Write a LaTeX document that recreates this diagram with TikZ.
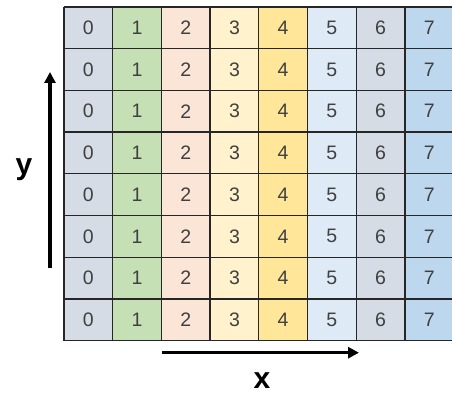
\documentclass[tikz,border=0pt]{standalone}
\usepackage{fontspec}
\setmainfont{Liberation Sans}
\usetikzlibrary{arrows.meta}
\definecolor{c0}{HTML}{D6DCE5}
\definecolor{c1}{HTML}{C5E0B4}
\definecolor{c2}{HTML}{FBE5D6}
\definecolor{c3}{HTML}{FFF2CC}
\definecolor{c4}{HTML}{FFE699}
\definecolor{c5}{HTML}{DEEBF7}
\definecolor{c6}{HTML}{D6DCE5}
\definecolor{c7}{HTML}{BDD7EE}
\definecolor{txt}{HTML}{404040}
\definecolor{gridline}{HTML}{262626}
\begin{document}
\begin{tikzpicture}[x=1pt,y=-1pt,
  cell/.style={minimum width=48.7pt,minimum height=41.7pt,
    inner sep=0pt,outer sep=0pt,text=txt,font=\fontsize{19.5}{22}\selectfont},
  gridln/.style={draw=gridline,line width=1.3pt},
  axisarrow/.style={line width=3.2pt,-{Triangle[length=11pt,width=11pt]}},
  axislabel/.style={font=\fontsize{30}{32}\selectfont\bfseries,text=black}]
\useasboundingbox (0,0) rectangle (452,398);
\clip (0,0) rectangle (452,398);
\foreach \j in {0,...,7}{
  \foreach \i in {0,...,7}{
    \node[cell,fill=c\i] (c-\i-\j) at ({64+48.7*\i+24.35},{7+41.7*\j+20.85}) {\i};
  }
}
\foreach \i in {0,...,7}{
  \draw[gridln] (c-\i-0.north west) -- (c-\i-7.south west);
}
\draw[gridln] (c-7-0.north east) -- (c-7-7.south east);
\foreach \j in {0,...,7}{
  \draw[gridln] (c-0-\j.north west) -- (c-7-\j.north east);
}
\draw[gridln] (c-0-7.south west) -- (c-7-7.south east);
\coordinate (xs) at (162,352.7);
\coordinate (xe) at (359,352.7);
\coordinate (ys) at (50,268);
\coordinate (ye) at (50,72);
\draw[axisarrow] (xs) -- (xe);
\draw[axisarrow] (ys) -- (ye);
\node[axislabel] (xl) at (262,381) {x};
\node[axislabel] (yl) at (24,170) {y};
\end{tikzpicture}
\end{document}
